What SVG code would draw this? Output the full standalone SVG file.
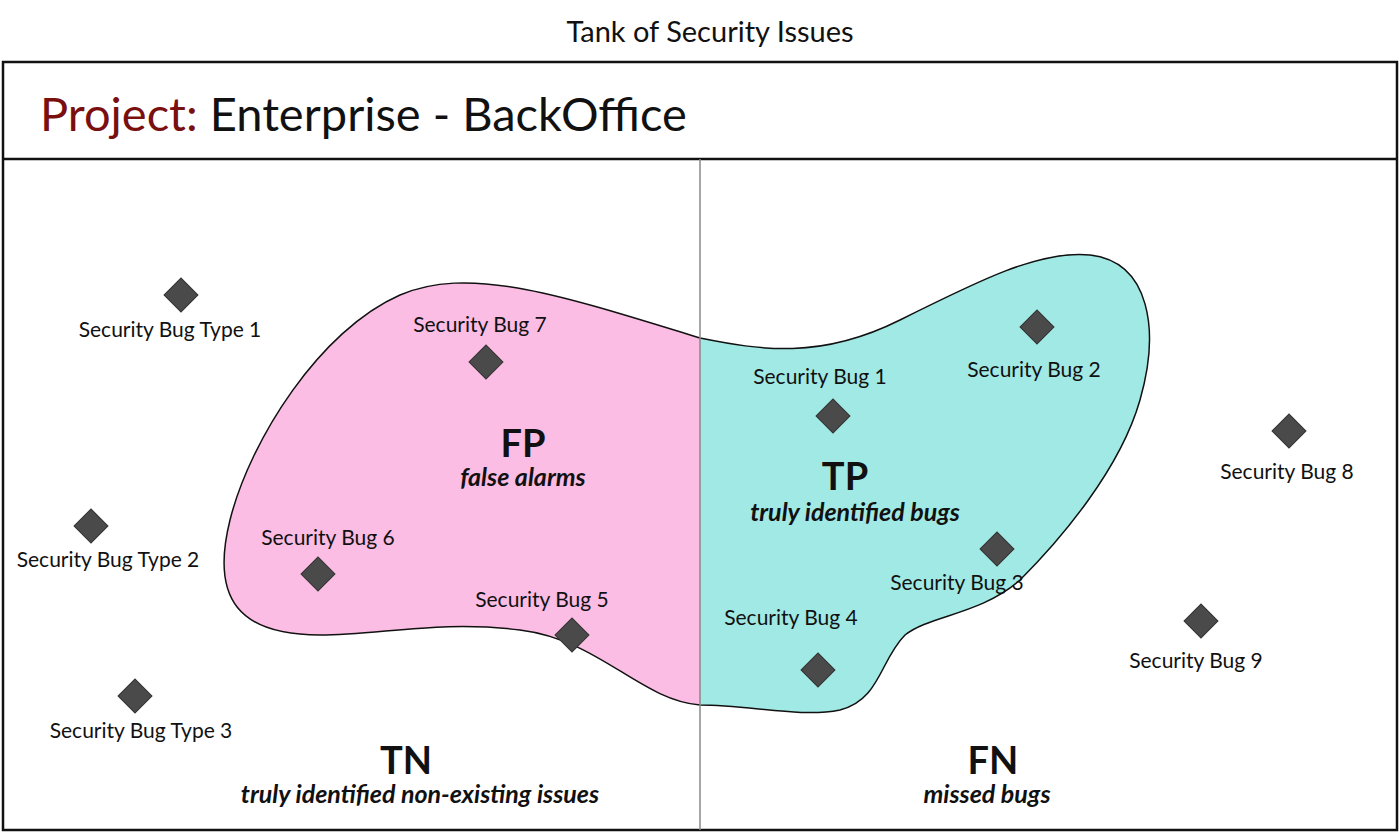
<svg xmlns="http://www.w3.org/2000/svg" width="1400" height="833" viewBox="0 0 1400 833">
<style>
text{font-family:Lato,"Open Sans","Liberation Sans",sans-serif;fill:#111}
.l{font-size:21px;text-anchor:middle}
.b{font-size:38px;font-weight:bold;text-anchor:middle}
.i{font-size:25px;font-style:italic;font-weight:bold;text-anchor:middle}
.d{fill:#4a4a4a;stroke:#333;stroke-width:1}
</style>
<defs>
<path id="blob" d="M700,338 C760,350 820,360 900,320 C980,280 1040,250 1090,255 C1150,262 1160,330 1140,400 C1120,470 1060,540 1020,580 C980,615 930,615 905,635 C880,660 880,700 840,710 C800,718 750,705 700,705 C640,700 600,640 520,630 C440,620 380,635 320,635 C240,635 210,600 230,520 C250,440 320,330 400,295 C470,265 560,295 700,338 Z"/>
<clipPath id="cl"><rect x="0" y="0" width="700" height="833"/></clipPath>
<clipPath id="cr"><rect x="700" y="0" width="700" height="833"/></clipPath>
<rect id="dm" x="-12" y="-12" width="24" height="24" transform="rotate(45)"/>
</defs>
<rect width="1400" height="833" fill="#fff"/>
<text x="710" y="42" font-size="29" text-anchor="middle">Tank of Security Issues</text>
<rect x="3" y="62" width="1394" height="768" fill="none" stroke="#111" stroke-width="2.5"/>
<line x1="3" y1="159" x2="1397" y2="159" stroke="#111" stroke-width="2.5"/>
<text x="40" y="131" font-size="47"><tspan style="fill:#7a0f0f">Project:</tspan> Enterprise - BackOffice</text>
<g id="regions">
<use href="#blob" fill="#fbbde3" clip-path="url(#cl)"/>
<use href="#blob" fill="#a1e9e4" clip-path="url(#cr)"/>
<use href="#blob" fill="none" stroke="#111" stroke-width="1.5"/>
</g>
<g id="connectors"><line x1="700" y1="159" x2="700" y2="830" stroke="#888" stroke-width="1.5"/></g>
<g id="quadrants">
<text class="b" x="523" y="457">FP</text><text class="i" x="523" y="486">false alarms</text>
<text class="b" x="845" y="490">TP</text><text class="i" x="855" y="521">truly identified bugs</text>
<text class="b" x="406" y="774">TN</text><text class="i" x="420" y="803">truly identified non-existing issues</text>
<text class="b" x="993" y="774">FN</text><text class="i" x="987" y="803">missed bugs</text>
</g>
<g id="n1"><use href="#dm" class="d" transform="translate(181,295)"/><text class="l" x="170" y="337">Security Bug Type 1</text></g>
<g id="n2"><use href="#dm" class="d" transform="translate(91,526)"/><text class="l" x="108" y="567">Security Bug Type 2</text></g>
<g id="n3"><use href="#dm" class="d" transform="translate(135,696)"/><text class="l" x="141" y="738">Security Bug Type 3</text></g>
<g id="n4"><use href="#dm" class="d" transform="translate(486,362)"/><text class="l" x="480" y="332">Security Bug 7</text></g>
<g id="n5"><use href="#dm" class="d" transform="translate(318,574)"/><text class="l" x="328" y="545">Security Bug 6</text></g>
<g id="n6"><use href="#dm" class="d" transform="translate(572,635)"/><text class="l" x="542" y="607">Security Bug 5</text></g>
<g id="n7"><use href="#dm" class="d" transform="translate(833,416)"/><text class="l" x="820" y="384">Security Bug 1</text></g>
<g id="n8"><use href="#dm" class="d" transform="translate(1037,327)"/><text class="l" x="1034" y="377">Security Bug 2</text></g>
<g id="n9"><use href="#dm" class="d" transform="translate(997,549)"/><text class="l" x="957" y="590">Security Bug 3</text></g>
<g id="n10"><use href="#dm" class="d" transform="translate(818,670)"/><text class="l" x="791" y="625">Security Bug 4</text></g>
<g id="n11"><use href="#dm" class="d" transform="translate(1289,431)"/><text class="l" x="1287" y="479">Security Bug 8</text></g>
<g id="n12"><use href="#dm" class="d" transform="translate(1201,621)"/><text class="l" x="1196" y="668">Security Bug 9</text></g>
</svg>
